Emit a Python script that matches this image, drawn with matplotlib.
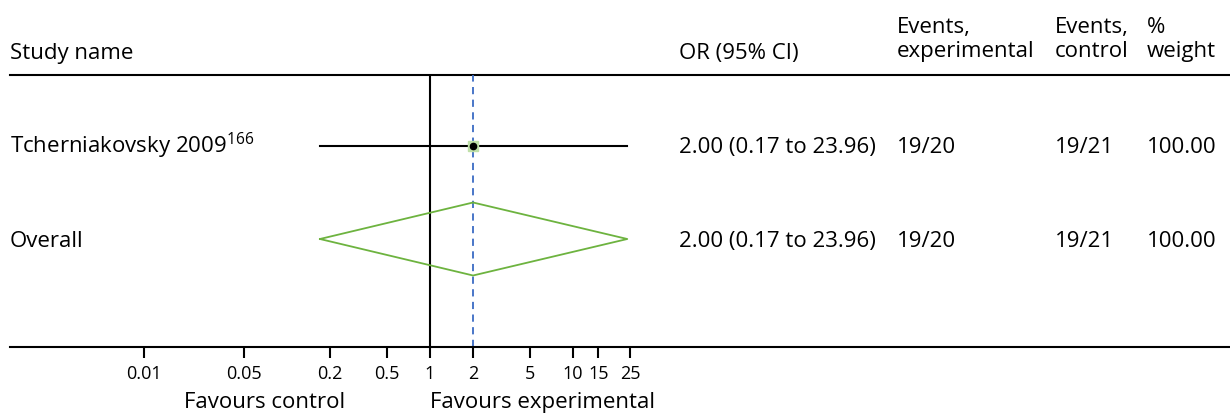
import matplotlib
matplotlib.use("Agg")
import matplotlib.pyplot as plt
import numpy as np

# ---- data ----
studies = ["Tcherniakovsky 2009"]
study_refs = ["166"]
or_values = [2.00]
ci_low = [0.17]
ci_high = [23.96]
events_exp = ["19/20"]
events_ctrl = ["19/21"]
weights = ["100.00"]
overall_or = 2.00
overall_low = 0.17
overall_high = 23.96
overall_exp = "19/20"
overall_ctrl = "19/21"
overall_weight = "100.00"
tick_values = [0.01, 0.05, 0.2, 0.5, 1, 2, 5, 10, 15, 25]
tick_labels = ["0.01", "0.05", "0.2", "0.5", "1", "2", "5", "10", "15", "25"]

plt.rcParams['font.family'] = ['Open Sans', 'DejaVu Sans']
plt.rcParams['mathtext.default'] = 'regular'

W, H = 1230, 417
fig = plt.figure(figsize=(W / 100, H / 100), dpi=100)

def fx(px):
    return px / W

def fy(py):
    return 1 - py / H

# axes spanning full width; log scale with 1 at x=430px, 143 px/decade
left_px, right_px = 10, 1230
top_px, bot_px = 75, 347
ax = fig.add_axes([fx(left_px), fy(bot_px), (right_px - left_px) / W, (bot_px - top_px) / H])
ppd = 143.0
xmin = 10 ** ((left_px - 430) / ppd)
xmax = 10 ** ((right_px - 430) / ppd)
ax.set_xscale('log')
ax.set_xlim(xmin, xmax)
row_px = 93.0
y_study = 2
y_overall = 1
ymax = 2 + (146 - top_px) / row_px
ymin = 1 - (bot_px - 239) / row_px
ax.set_ylim(ymin, ymax)

for s in ['left', 'right', 'top']:
    ax.spines[s].set_visible(False)
ax.spines['bottom'].set_linewidth(1.5)
ax.spines['bottom'].set_color('black')
ax.set_yticks([])
ax.set_xticks(tick_values)
ax.set_xticklabels(tick_labels, fontsize=13)
ax.xaxis.set_minor_locator(matplotlib.ticker.NullLocator())
ax.tick_params(axis='x', length=8, width=1.5, pad=5)
ax.patch.set_visible(False)

# header line
ax.axhline(ymax, color='black', lw=1.5, clip_on=False)

# reference lines
ax.axvline(1, color='black', lw=1.5)
ax.axvline(2, color='#3a6bc4', lw=1.3, ls=(0, (4, 3)))

# study row
green = '#6db33f'
for i in range(len(studies)):
    ax.plot([ci_low[i], ci_high[i]], [y_study, y_study], color='black', lw=1.5)
    ax.plot([or_values[i]], [y_study], marker='s', ms=7.5, color='#bfe0a8', mec='#bfe0a8', zorder=3)
    ax.plot([or_values[i]], [y_study], marker='o', ms=4.5, color='black', zorder=4)

# overall diamond
dh = 36.5 / row_px
ax.plot([overall_low, overall_or, overall_high, overall_or, overall_low],
        [y_overall, y_overall + dh, y_overall, y_overall - dh, y_overall],
        color=green, lw=1.3, zorder=3)

fs = 16
kw = dict(fontsize=fs, va='baseline', ha='left')
# headers (baselines)
b0, b1, b2 = 59, 33, 57
fig.text(fx(10), fy(b0), "Study name", **kw)
fig.text(fx(679), fy(b0), "OR (95% CI)", **kw)
fig.text(fx(897), fy(b1), "Events,", **kw)
fig.text(fx(897), fy(b2), "experimental", **kw)
fig.text(fx(1055), fy(b1), "Events,", **kw)
fig.text(fx(1055), fy(b2), "control", **kw)
fig.text(fx(1147), fy(b1), "%", **kw)
fig.text(fx(1147), fy(b2), "weight", **kw)

# rows
rb1, rb2 = 153, 247
for i in range(len(studies)):
    fig.text(fx(10), fy(rb1), studies[i] + "$^{" + study_refs[i] + "}$", **kw)
    fig.text(fx(679), fy(rb1), f"{or_values[i]:.2f} ({ci_low[i]:.2f} to {ci_high[i]:.2f})", **kw)
    fig.text(fx(897), fy(rb1), events_exp[i], **kw)
    fig.text(fx(1055), fy(rb1), events_ctrl[i], **kw)
    fig.text(fx(1147), fy(rb1), weights[i], **kw)

fig.text(fx(10), fy(rb2), "Overall", **kw)
fig.text(fx(679), fy(rb2), f"{overall_or:.2f} ({overall_low:.2f} to {overall_high:.2f})", **kw)
fig.text(fx(897), fy(rb2), overall_exp, **kw)
fig.text(fx(1055), fy(rb2), overall_ctrl, **kw)
fig.text(fx(1147), fy(rb2), overall_weight, **kw)

fig.text(fx(345), fy(408), "Favours control", fontsize=fs, va='baseline', ha='right')
fig.text(fx(430), fy(408), "Favours experimental", **kw)

fig.savefig("out.png", dpi=100)
